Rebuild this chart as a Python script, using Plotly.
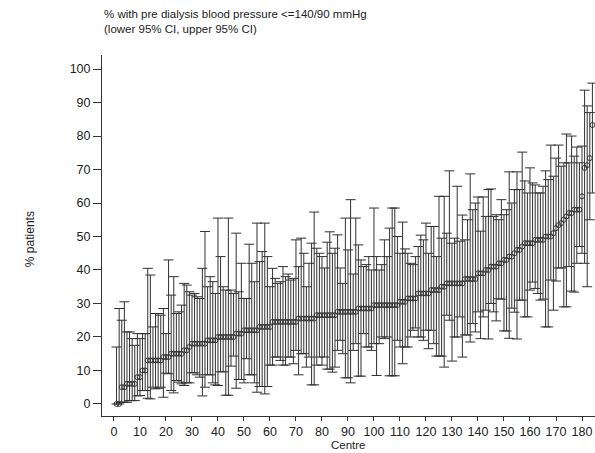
import plotly.graph_objects as go

# point estimate (% with pre-dialysis BP <= 140/90), sorted, one per centre
pct = ([0]*2 + [5]*2 + [6]*4 + [8]*2 + [10]*2 + [13]*6 + [14]*3 + [15]*5 + [16]*2 + [17]
       + [18]*6 + [19]*4 + [20]*7 + [21]*3 + [22]*6 + [23]*5 + [24.5]*10 + [25.5]*7
       + [26.5]*8 + [27.5]*8 + [28.5]*6 + [29.5]*10 + [30.5]*3 + [31.5]*4 + [33]*5
       + [34]*4 + [35]*2 + [36]*7 + [37.3]*5 + [39]*3 + [40]*2 + [41]*3 + [42]*2
       + [43]*2 + [44]*2 + [45] + [46]*2 + [47] + [48]*4 + [49]*4 + [50]*3 + [51]
       + [52.5, 53.4, 54, 55, 56, 57, 57] + [58]*3 + [62, 70.5, 71.3, 73.4, 83.3])

# upper 95% CI
upper = [17, 28.5, 25, 30.5, 21.5, 21.5, 19.5, 17.5, 21, 19.5,
         21, 21, 40.5, 38.5, 23, 27, 27, 26.5, 28.5, 21,
         43, 32.5, 38, 27, 27.5, 29.5, 36, 35.5, 33.5, 32.5,
         33, 32, 31.5, 40.5, 51.5, 35, 38, 36.5, 33, 55.5,
         44, 35, 34, 55.5, 34, 33, 51, 33.5, 42, 31.5,
         31.5, 47.7, 42, 36.5, 54, 42.5, 45.5, 54, 44, 35,
         40.5, 37.5, 36, 36.5, 41, 38, 38.8, 37, 37.5, 49,
         41, 49.5, 45, 35, 42, 48, 57.3, 46.5, 45, 44,
         40.6, 48.3, 51.4, 45, 46.5, 50.5, 40.6, 36, 55.5, 46,
         61, 38.8, 55.5, 47.5, 43, 41, 41.6, 44, 40, 58.5,
         44, 40, 41.6, 49, 44, 52.5, 58.5, 58.5, 50, 45,
         54.3, 46.3, 45, 42, 41.6, 44, 47, 50.4, 49, 54,
         45, 53, 53, 44, 62, 49.5, 62, 51, 69.6, 48,
         49.5, 65, 48.6, 56.4, 49, 55, 68.7, 58, 60, 61.8,
         51.6, 61.8, 56, 64, 64.2, 56, 56.5, 55, 61, 56.5,
         58, 69.3, 60, 64, 69.3, 64, 75.2, 66.6, 63, 70.5,
         66, 65.4, 63, 63, 65, 69.6, 67, 77.3, 68, 73.4,
         77.3, 71, 72, 80.6, 72, 80, 74, 76.7, 72, 77,
         93.7, 89, 87, 95.8]

# lower 95% CI
lower = [0, 0, 0.5, 0.5, 0.5, 1, 1, 1, 2.4, 2.5,
         4, 4, 1.7, 1.5, 5, 4.5, 4.7, 5, 2, 9.2,
         9, 4, 3.3, 7, 6.5, 6, 5.5, 6.3, 6.3, 9.3,
         9.3, 8.7, 8, 2.4, 5, 8.7, 8.7, 6.3, 5.7, 5.5,
         9.6, 9.6, 2.6, 2.6, 11.3, 14.3, 4.7, 7.3, 7.3, 6.3,
         13.5, 8.7, 8.7, 6.3, 3.5, 5.2, 5.2, 3, 5.2, 11.6,
         11.6, 14, 14, 13, 11.6, 11.6, 14, 14, 12, 16,
         8.7, 15, 15, 11, 14, 5.7, 5.7, 11.6, 14, 11.6,
         14, 10.4, 10.4, 9.5, 11, 16, 19, 15, 7.8, 7.8,
         6.3, 16, 18, 8.3, 8.3, 21, 17, 17, 16, 18,
         8.5, 18, 20, 19.5, 20, 8.4, 8.4, 8.4, 19, 17,
         12, 17, 17, 20, 22, 22.7, 20, 20, 19, 22,
         16.5, 22, 18, 14.3, 14.3, 14.3, 11, 26.5, 25, 12.8,
         20, 20, 26, 14, 20.6, 20.6, 18.5, 24, 21.5, 27.5,
         19.5, 26, 28, 19.4, 30, 27.5, 24.8, 31.4, 31.3, 21.8,
         21.8, 19.6, 28.6, 27.4, 19.4, 31, 31, 26, 26, 34,
         36.4, 34.5, 33, 31, 31.3, 23, 23, 37, 28, 36.7,
         40.6, 40.6, 29, 29, 41, 33.7, 33.4, 42, 47, 45,
         42, 35, 55, 63]

centre = list(range(1, len(pct) + 1))
x_ticks = list(range(0, 181, 10))
y_ticks = list(range(0, 101, 10))

err_plus = [u - p for u, p in zip(upper, pct)]
err_minus = [p - l for p, l in zip(pct, lower)]

FONT = "Liberation Sans, Arial, sans-serif"

fig = go.Figure(go.Scatter(
    x=centre, y=pct, mode="markers",
    marker=dict(symbol="circle-open", size=5, color="#333333", line=dict(width=1)),
    error_y=dict(type="data", symmetric=False, array=err_plus, arrayminus=err_minus,
                 color="#303030", thickness=1, width=5),
    showlegend=False,
))

axis_common = dict(showgrid=False, zeroline=False, showline=True, linecolor="#333333",
                   linewidth=1, ticks="outside", tickcolor="#333333", tickwidth=1,
                   tickfont=dict(family=FONT, size=12.5, color="#222222"))

fig.update_layout(
    width=595, height=453,
    margin=dict(l=102, r=0, t=55, b=37),
    paper_bgcolor="white", plot_bgcolor="white",
    font=dict(family=FONT, color="#222222"),
    xaxis=dict(range=[-4.6, 185], tickvals=x_ticks, ticklen=4, **axis_common),
    yaxis=dict(range=[-3.6, 104.2], tickvals=y_ticks, ticklen=8, **axis_common),
    annotations=[
        dict(text="% with pre dialysis blood pressure <=140/90 mmHg<br>(lower 95% CI, upper 95% CI)",
             xref="paper", yref="paper", x=0.0, y=1.137, xanchor="left", yanchor="top",
             align="left", showarrow=False, font=dict(family=FONT, size=11.5, color="#222222")),
        dict(text="Centre", xref="paper", yref="paper", x=0.501, y=-0.0985,
             xanchor="center", yanchor="bottom", showarrow=False, borderpad=0,
             font=dict(family=FONT, size=11.5, color="#222222")),
        dict(text="% patients", xref="paper", yref="paper", x=-0.146, y=0.49,
             xanchor="center", yanchor="middle", textangle=-90, showarrow=False,
             font=dict(family=FONT, size=12, color="#222222")),
    ],
)

fig.write_html("out.html", config={"displayModeBar": False},
               post_script="document.body.style.margin='0';document.body.style.overflow='hidden';")
